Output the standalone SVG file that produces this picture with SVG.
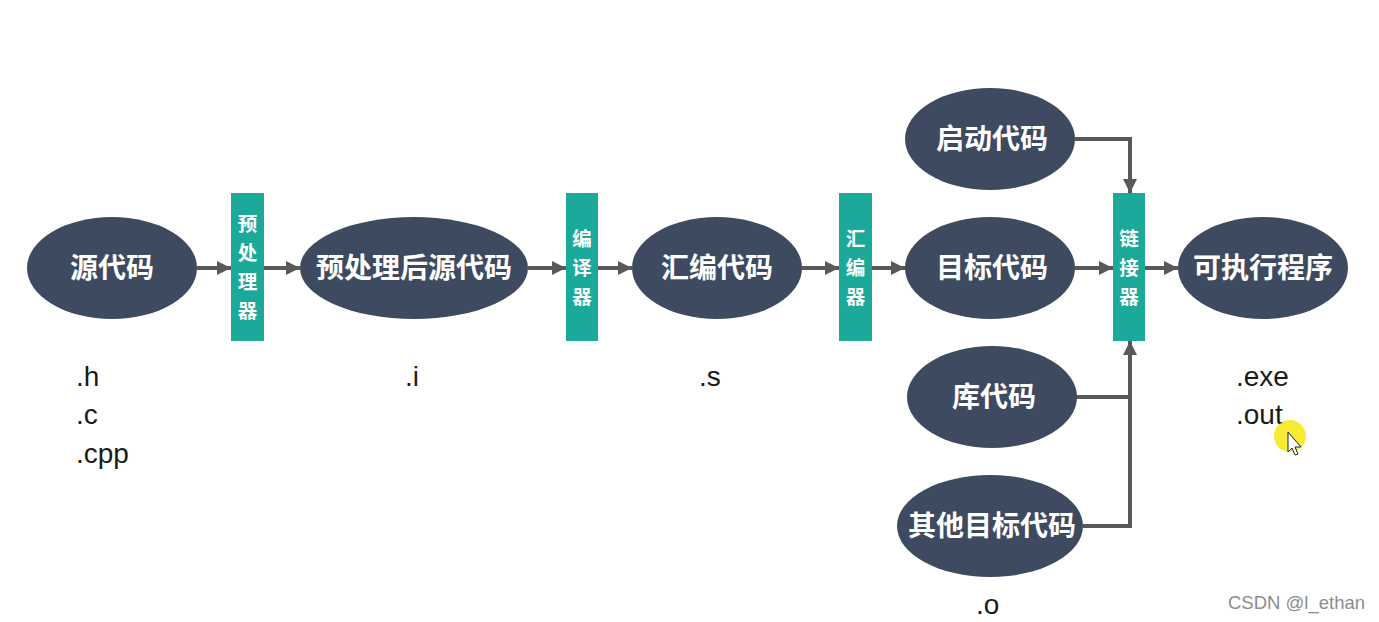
<svg xmlns="http://www.w3.org/2000/svg" width="1379" height="622" viewBox="0 0 1379 622">
<style>
.node{fill:#3d4a5f}
.proc{fill:#1ba99a}
.nt{fill:#ffffff;font-family:"Noto Sans CJK SC","Noto Sans",sans-serif;font-weight:bold;font-size:28px;text-anchor:middle}
.pt{fill:#ffffff;font-family:"Noto Sans CJK SC","Noto Sans",sans-serif;font-weight:bold;font-size:19.5px;text-anchor:middle}
.ext{fill:#1a1a1a;font-family:"Liberation Sans",Arial,sans-serif;font-size:28px}
.ln{fill:none;stroke:#595959;stroke-width:4}
</style>
<defs>
<marker id="ah" viewBox="0 0 10 10" refX="10" refY="5" markerWidth="3.6" markerHeight="3.6" markerUnits="strokeWidth" orient="auto">
<path d="M0,0 L10,5 L0,10 z" fill="#595959"/>
</marker>
</defs>
<rect width="1379" height="622" fill="#ffffff"/>
<g id="connectors">
<line class="ln" x1="197" y1="268" x2="231" y2="268" marker-end="url(#ah)"/>
<line class="ln" x1="264" y1="268" x2="300" y2="268" marker-end="url(#ah)"/>
<line class="ln" x1="528" y1="268" x2="566" y2="268" marker-end="url(#ah)"/>
<line class="ln" x1="598" y1="268" x2="632" y2="268" marker-end="url(#ah)"/>
<line class="ln" x1="802" y1="268" x2="839" y2="268" marker-end="url(#ah)"/>
<line class="ln" x1="872" y1="268" x2="905" y2="268" marker-end="url(#ah)"/>
<line class="ln" x1="1075" y1="268" x2="1113" y2="268" marker-end="url(#ah)"/>
<line class="ln" x1="1145" y1="268" x2="1178" y2="268" marker-end="url(#ah)"/>
<polyline class="ln" points="1075,139 1130,139 1130,193" marker-end="url(#ah)"/>
<line class="ln" x1="1075" y1="397" x2="1130" y2="397"/>
<polyline class="ln" points="1083,526 1130,526 1130,341" marker-end="url(#ah)"/>
</g>
<g id="n-src"><ellipse class="node" cx="112" cy="268" rx="85" ry="51"/><text class="nt" x="112" y="278">源代码</text></g>
<g id="p-pre"><rect class="proc" x="231" y="193" width="33" height="148"/>
<text class="pt" x="247.5" y="231">预</text><text class="pt" x="247.5" y="260">处</text><text class="pt" x="247.5" y="289">理</text><text class="pt" x="247.5" y="318">器</text></g>
<g id="n-presrc"><ellipse class="node" cx="414" cy="268" rx="114" ry="51"/><text class="nt" x="414" y="278">预处理后源代码</text></g>
<g id="p-comp"><rect class="proc" x="566" y="193" width="32" height="148"/>
<text class="pt" x="582" y="246">编</text><text class="pt" x="582" y="275">译</text><text class="pt" x="582" y="304">器</text></g>
<g id="n-asm"><ellipse class="node" cx="717" cy="268" rx="85" ry="51"/><text class="nt" x="717" y="278">汇编代码</text></g>
<g id="p-as"><rect class="proc" x="839" y="193" width="33" height="148"/>
<text class="pt" x="855.5" y="246">汇</text><text class="pt" x="855.5" y="275">编</text><text class="pt" x="855.5" y="304">器</text></g>
<g id="n-start"><ellipse class="node" cx="990" cy="139" rx="85" ry="51"/><text class="nt" x="992" y="149">启动代码</text></g>
<g id="n-obj"><ellipse class="node" cx="990" cy="268" rx="85" ry="51"/><text class="nt" x="992" y="278">目标代码</text></g>
<g id="n-lib"><ellipse class="node" cx="992" cy="397" rx="85" ry="51"/><text class="nt" x="994" y="407">库代码</text></g>
<g id="n-other"><ellipse class="node" cx="990" cy="526" rx="93" ry="51"/><text class="nt" x="992" y="536">其他目标代码</text></g>
<g id="p-link"><rect class="proc" x="1113" y="193" width="32" height="148"/>
<text class="pt" x="1129" y="246">链</text><text class="pt" x="1129" y="275">接</text><text class="pt" x="1129" y="304">器</text></g>
<g id="n-exe"><ellipse class="node" cx="1263" cy="268" rx="85" ry="51"/><text class="nt" x="1263" y="278">可执行程序</text></g>
<g id="labels">
<text class="ext" x="76" y="386">.h</text>
<text class="ext" x="76" y="424">.c</text>
<text class="ext" x="76" y="463">.cpp</text>
<text class="ext" x="405" y="386">.i</text>
<text class="ext" x="699" y="386">.s</text>
<text class="ext" x="1236" y="386">.exe</text>
<text class="ext" x="1236" y="424">.out</text>
<text class="ext" x="976" y="614">.o</text>
<text x="1228" y="609" fill="#8c8c8c" font-family="Liberation Sans,Arial,sans-serif" font-size="18.5">CSDN @l_ethan</text>
</g>
<g id="cursor">
<circle cx="1290" cy="436" r="16" fill="#f2e600" opacity="0.8"/>
<path d="M1288,432 L1288,452 L1292,448 L1295,455 L1298,454 L1295,447 L1301,447 Z" fill="#ffffff" stroke="#222222" stroke-width="1"/>
</g>
</svg>
